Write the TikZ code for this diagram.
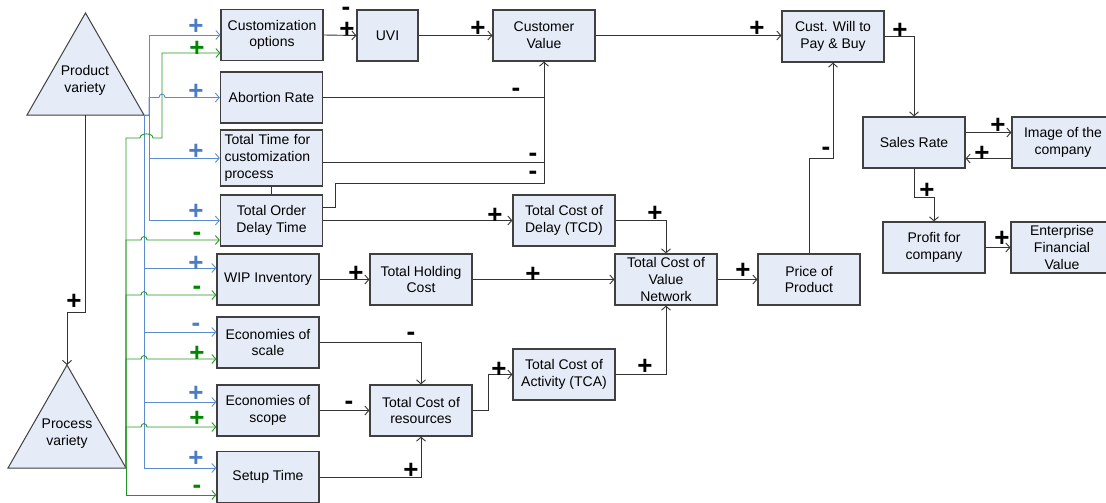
\documentclass[tikz,border=0pt]{standalone}
\usepackage{fontspec}
\setmainfont{Liberation Sans}
\usepackage{xcolor}
\usetikzlibrary{arrows.meta}

\definecolor{boxfill}{RGB}{230,236,247}
\definecolor{vblue}{RGB}{92,140,206}
\definecolor{vgreen}{RGB}{34,150,34}
\definecolor{sblue}{RGB}{76,124,196}
\definecolor{sgreen}{RGB}{0,135,0}

% small hop where a line crosses another one
\newcommand{\hopover}[2]{.. controls ({#1-3},{#2-4.5}) and ({#1+3},{#2-4.5}) .. ({#1+3},#2)}

\begin{document}
\begin{tikzpicture}[x=1pt, y=-1pt, font=\fontsize{14}{16.7}\selectfont,
	box/.style={draw=black!75, line width=1.2pt, fill=boxfill, minimum width=102pt, minimum height=51pt, align=center, inner sep=2pt},
	tri/.style={draw=black!75, line width=1pt, fill=boxfill},
	line/.style={draw=black!80, line width=0.9pt},
	arr/.style={line, -{Straight Barb[length=4pt,width=9pt]}},
	bline/.style={arr, draw=vblue},
	gline/.style={arr, draw=vgreen},
	sg/.style={font=\fontsize{26}{26}\bfseries, inner sep=0pt, text height=17pt, text depth=0pt},
	neg/.style={text height=13pt},
	bsg/.style={sg, text=sblue},
	gsg/.style={sg, text=sgreen}]
		\useasboundingbox (0,0) rectangle (1106,503);
		\clip (0,0) rectangle (1106,503);

		% the two varieties
		\coordinate (prodL) at (27,115);
		\coordinate (prodT) at (85.5,13);
		\coordinate (prodR) at (144,115);
		\coordinate (prodB) at (85,115);
		\draw[tri] (prodL) -- (prodT) -- (prodR) -- cycle;
		\node[align=center] (prod) at (85,80.5) {Product\\variety};
		\coordinate (procL) at (8,468);
		\coordinate (procT) at (67,365);
		\coordinate (procR) at (126,468);
		\draw[tri] (procL) -- (procT) -- (procR) -- cycle;
		\node[align=center] (proc) at (67,433.5) {Process\\variety};

		% blocks
		\node[box] (copt) at (272,35) {Customization\\options};
		\node[box] (abort) at (271.5,97.5) {Abortion Rate};
		\node[box, minimum height=56pt, text width=94pt, inner sep=4pt, align=left] (ttime) at (271.5,158) {Total Time for\\customization\\process};
		\node[box] (todt) at (271.5,220.5) {Total Order\\Delay Time};
		\node[box] (wip) at (268,279.5) {WIP Inventory};
		\node[box] (escale) at (268,342.5) {Economies of\\scale};
		\node[box] (escope) at (268,410.5) {Economies of\\scope};
		\node[box] (setup) at (268,477) {Setup Time};
		\node[box, minimum width=61pt] (uvi) at (387.5,35.5) {UVI};
		\node[box] (cval) at (544,35.5) {Customer\\Value};
		\node[box] (tcd) at (564,220.5) {Total Cost of\\Delay (TCD)};
		\node[box] (thc) at (421,279.5) {Total Holding\\Cost};
		\node[box] (tcvn) at (666,279.5) {Total Cost of\\Value\\Network};
		\node[box] (tcr) at (421,410.5) {Total Cost of\\resources};
		\node[box] (tca) at (564,374.5) {Total Cost of\\Activity (TCA)};
		\node[box] (price) at (809,279.5) {Price of\\Product};
		\node[box] (cwill) at (833,36.5) {Cust. Will to\\Pay \& Buy};
		\node[box] (sales) at (914,142.5) {Sales Rate};
		\node[box] (image) at (1063,142.5) {Image of the\\company};
		\node[box] (profit) at (934,247.5) {Profit for\\company};
		\node[box] (efv) at (1062,247.5) {Enterprise\\Financial\\Value};

		% black links
		\draw[arr] (prodB) -- ++(0,197) -| (procT);
		\draw[arr] (copt.east) -- (uvi.west);
		\draw[arr] (uvi.east) -- (cval.west);
		\draw[arr] (cval.east) -- (cval.east -| cwill.west);
		\draw[arr] (abort.east) -| (cval.south);
		\draw[line] ([yshift=-4pt]ttime.east) -- ([yshift=-4pt]ttime.east -| cval.south);
		\draw[line] ([yshift=13pt]todt.east) -- ++(12,0) -- ++(0,-24) -| (cval.south);
		\draw[line] (ttime.south) -- (todt.north);
		\draw[arr] (todt.east) -- (tcd.west);
		\draw[arr] (tcd.east) -| (tcvn.north);
		\draw[arr] (wip.east) -- (thc.west);
		\draw[arr] (thc.east) -- (tcvn.west);
		\draw[arr] (escale.east) -| (tcr.north);
		\draw[arr] (escope.east) -- (tcr.west);
		\draw[arr] (setup.east) -| (tcr.south);
		\draw[arr] (tcr.east) -- ++(16,0) |- (tca.west);
		\draw[arr] (tca.east) -| (tcvn.south);
		\draw[arr] (tcvn.east) -- (price.west);
		\draw[arr] (price.north) -- ++(0,-95) -| (cwill.south);
		\draw[arr] (cwill.east) -| (sales.north);
		\draw[arr] ([yshift=10pt]sales.east) -- ([yshift=10pt]image.west);
		\draw[arr] ([yshift=-16pt]image.west) -- ([yshift=-16pt]sales.east);
		\draw[arr] (sales.south) -- ++(0,29) -| (profit.north);
		\draw[arr] (profit.east) -- (efv.west);

		% product variety links
		\draw[bline] (prodR) -- ++(5,0) |- (copt.west);
		\draw[bline] (prodR) -- ++(5,0) |- (159,97.5) \hopover{162}{97.5} -- (abort.west);
		\draw[bline] (prodR) -- ++(5,0) |- (ttime.west);
		\draw[bline] (prodR) -- ++(5,0) |- (todt.west);
		\draw[bline] (prodR) |- ([yshift=11.5pt]wip.west);
		\draw[bline] (prodR) |- ([yshift=10.5pt]escale.west);
		\draw[bline] (prodR) |- ([yshift=8.5pt]escope.west);
		\draw[bline] (prodR) |- ([yshift=9pt]setup.west);

		% process variety links
		\draw[gline] (procR) |- (140,138) .. controls (140,132.5) and (153,132.5) .. (153,138) -- (162,138) |- ([yshift=-18pt]copt.west);
		\draw[gline] (procR) |- (141,240) \hopover{144}{240} -- ([yshift=-19.5pt]todt.west);
		\draw[gline] (procR) |- (141,295) \hopover{144}{295} -- ([yshift=-15.5pt]wip.west);
		\draw[gline] (procR) |- (141,359) \hopover{144}{359} -- ([yshift=-16.5pt]escale.west);
		\draw[gline] (procR) |- (141,427) \hopover{144}{427} -- ([yshift=-16.5pt]escope.west);
		\draw[gline] (procR) |- ([yshift=-18pt]setup.west);

		% signs
		\node[sg] (pvPlus) at (74,301) {+};
		\node[sg, neg] (uviMinus) at (346,9) {-};
		\node[sg] (uviPlus) at (347,29) {+};
		\node[sg] (cvPlus) at (478,28) {+};
		\node[sg] (cwPlus) at (757,28) {+};
		\node[sg, neg] (abMinus) at (516,90) {-};
		\node[sg, neg] (ttMinus) at (533,155) {-};
		\node[sg, neg] (odMinus) at (533,173) {-};
		\node[sg] (tcdPlus) at (495,215) {+};
		\node[sg] (tcdOut) at (655,213) {+};
		\node[sg] (thcPlus) at (356,273) {+};
		\node[sg] (thcOut) at (533,274) {+};
		\node[sg, neg] (scaleMinus) at (411,334) {-};
		\node[sg, neg] (scopeMinus) at (349,403) {-};
		\node[sg] (setupPlus) at (411,470) {+};
		\node[sg] (tcaPlus) at (499,369) {+};
		\node[sg] (tcaOut) at (645,366) {+};
		\node[sg] (pricePlus) at (743,270) {+};
		\node[sg, neg] (priceOut) at (826,149) {-};
		\node[sg] (salesPlus) at (900,30) {+};
		\node[sg] (imgPlus) at (998,125) {+};
		\node[sg] (imgBack) at (982,153) {+};
		\node[sg] (profPlus) at (927,190) {+};
		\node[sg] (efvPlus) at (1002,238) {+};

		\node[bsg] (bOpt) at (196,26) {+};
		\node[bsg] (bAbort) at (196,91) {+};
		\node[bsg] (bTime) at (196,151) {+};
		\node[bsg] (bDelay) at (196,211) {+};
		\node[bsg] (bWip) at (196,263) {+};
		\node[bsg, neg] (bScale) at (196,325) {-};
		\node[bsg] (bScope) at (196,393) {+};
		\node[bsg] (bSetup) at (196,458) {+};

		\node[gsg] (gOpt) at (197,48) {+};
		\node[gsg, neg] (gDelay) at (197,234) {-};
		\node[gsg, neg] (gWip) at (197,288) {-};
		\node[gsg] (gScale) at (197,353) {+};
		\node[gsg] (gScope) at (197,418) {+};
		\node[gsg, neg] (gSetup) at (197,487) {-};
	\end{tikzpicture}
\end{document}
